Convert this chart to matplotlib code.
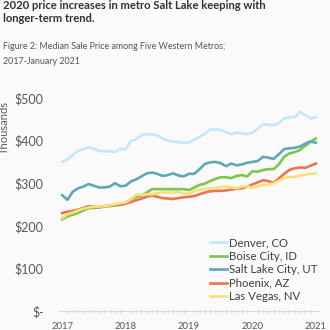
import matplotlib
matplotlib.use("Agg")
import matplotlib.pyplot as plt
import numpy as np

months = np.arange(49)  # Jan 2017 .. Jan 2021
year_ticks = [0, 12, 24, 36, 48]
year_labels = ["2017", "2018", "2019", "2020", "2021"]

denver = [350, 356, 366, 376, 380, 384, 381, 376, 375, 375, 373, 381, 380, 399, 403, 413,
          415, 415, 412, 405, 400, 398, 396, 395, 395, 402, 409, 416, 426, 426, 425, 420,
          415, 419, 417, 415, 418, 428, 438, 437, 436, 441, 452, 455, 455, 467, 460, 452, 455]
boise = [215, 222, 226, 230, 236, 241, 242, 243, 245, 246, 248, 249, 253, 262, 268, 271,
         278, 286, 286, 286, 286, 286, 286, 286, 284, 290, 296, 299, 305, 310, 314, 314,
         312, 317, 319, 316, 328, 327, 331, 333, 333, 344, 362, 370, 373, 378, 388, 397, 405]
salt_lake = [272, 261, 280, 288, 292, 298, 294, 290, 290, 292, 300, 293, 294, 304, 309, 316,
             323, 325, 322, 317, 319, 323, 318, 316, 322, 322, 333, 345, 349, 350, 347, 340,
             346, 342, 344, 348, 350, 352, 362, 360, 357, 368, 380, 382, 383, 386, 393, 398, 395]
phoenix = [230, 233, 235, 238, 242, 246, 245, 244, 246, 248, 249, 250, 252, 256, 260, 264,
           268, 271, 268, 265, 264, 263, 265, 267, 268, 270, 274, 278, 281, 282, 282, 283,
           285, 287, 288, 292, 297, 302, 307, 305, 301, 311, 322, 331, 335, 337, 336, 341, 346]
las_vegas = [218, 227, 231, 236, 240, 243, 245, 245, 246, 248, 251, 253, 255, 262, 273, 273,
             274, 274, 276, 278, 278, 278, 279, 276, 275, 282, 285, 286, 288, 289, 291, 292,
             290, 288, 292, 293, 289, 293, 296, 296, 300, 306, 312, 314, 315, 318, 320, 322, 323]

series_names = ["Denver, CO", "Boise City, ID", "Salt Lake City, UT", "Phoenix, AZ", "Las Vegas, NV"]
series_values = [denver, boise, salt_lake, phoenix, las_vegas]
colors = ["#C3E8F8", "#7CC64C", "#5FA9B5", "#EC7453", "#F6E07C"]

y_ticks = [0, 100, 200, 300, 400, 500]
y_labels = ["$-", "$100", "$200", "$300", "$400", "$500"]

plt.rcParams['font.family'] = ['Lato', 'DejaVu Sans']
bg = "#FAFAFA"
fig = plt.figure(figsize=(3.3, 3.3), dpi=100, facecolor=bg)
ax = fig.add_axes([59/330, 1 - 311/330, 260/330, (311 - 98)/330], facecolor=bg)

for name, vals, c in zip(series_names, series_values, colors):
    ax.plot(months, vals, color=c, lw=1.9, label=name, solid_joinstyle='round')

ax.set_ylim(0, 500)
ax.set_xlim(-0.6, 48.6)
ax.set_yticks(y_ticks)
ax.set_yticklabels(y_labels)
ax.set_xticks(year_ticks)
ax.set_xticklabels(year_labels)
ax.set_xticks(months, minor=True)
for s in ["top", "right", "left"]:
    ax.spines[s].set_visible(False)
ax.spines["bottom"].set_color("#D9D9D9")
ax.spines["bottom"].set_linewidth(0.8)
ax.tick_params(axis='y', length=0, pad=11, labelsize=9, labelcolor="#595959")
ax.tick_params(axis='x', which='major', length=0, pad=8, labelsize=6.8, labelcolor="#595959")
ax.tick_params(axis='x', which='minor', length=2.5, width=0.6, color="#D9D9D9", direction='inout')
ax.set_ylabel("Thousands", fontsize=8, color="#595959", labelpad=4)
ax.yaxis.set_label_coords(-49/260, (311 - 128) / (311 - 98))

leg = ax.legend(loc="lower right", bbox_to_anchor=(1.01, 0.02), frameon=False, fontsize=8.2,
                handlelength=1.45, handletextpad=0.15, labelspacing=0.22, borderaxespad=0)
for t in leg.get_texts():
    t.set_color("#404040")

fig.text(3/330, 1 - 22/330, "2020 price increases in metro Salt Lake keeping with\nlonger-term trend.",
         fontsize=8.1, fontweight='bold', color="#333333", va='baseline', ha='left', linespacing=1.25)
fig.text(3/330, 1 - 49/330, "Figure 2: Median Sale Price among Five Western Metros;",
         fontsize=6.4, color="#555555", va='baseline', ha='left')
fig.text(3/330, 1 - 64/330, "2017-January 2021",
         fontsize=6.4, color="#555555", va='baseline', ha='left')

fig.savefig("out.png", dpi=100, facecolor=bg)
